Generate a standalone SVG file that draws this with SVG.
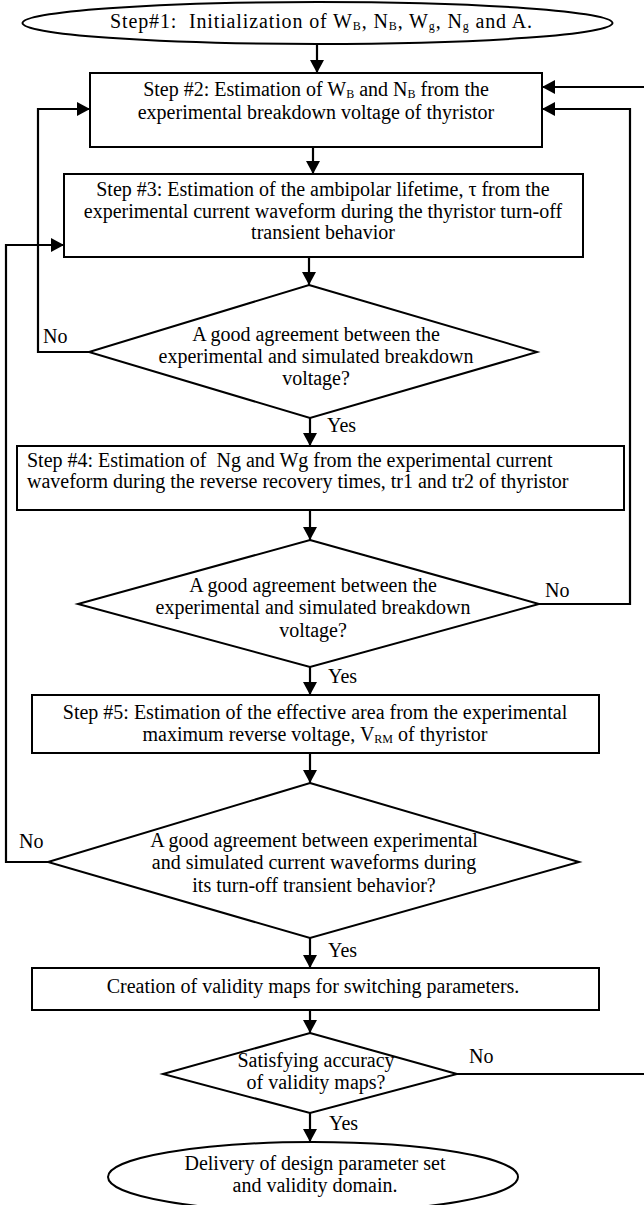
<svg xmlns="http://www.w3.org/2000/svg" width="644" height="1205" viewBox="0 0 644 1205">
<defs>
<marker id="ah" markerUnits="userSpaceOnUse" markerWidth="14" markerHeight="14" refX="13" refY="7" orient="auto"><path d="M0,0 L13,7 L0,14 Z" fill="#000"/></marker>
</defs>
<style>
.s{fill:#fff;stroke:#000;stroke-width:2}
.c{fill:none;stroke:#000;stroke-width:2.2;marker-end:url(#ah)}
text{font-family:"Liberation Serif","Times New Roman",serif;font-size:20px;fill:#000;white-space:pre}
.m{text-anchor:middle}
.sub{font-size:12px}
</style>
<rect width="644" height="1205" fill="#fff"/>
<g id="connectors">
<path class="c" d="M317,43 V73"/>
<path class="c" d="M313,147 V174"/>
<path class="c" d="M309,257 V285"/>
<path class="c" d="M310,418 V446"/>
<path class="c" d="M310,510 V540"/>
<path class="c" d="M310,667 V695"/>
<path class="c" d="M310,753 V783"/>
<path class="c" d="M310,938 V968"/>
<path class="c" d="M310,1010 V1033"/>
<path class="c" d="M310,1113 V1142"/>
<path class="c" d="M89,352 H38 V109 H90"/>
<path class="c" d="M539,604 H630 V109 H542"/>
<path class="c" d="M48,862 H6 V245 H64"/>
<path class="c" d="M457,1074 H647 V87 H542"/>
<text x="43" y="343">No</text>
<text x="327" y="432">Yes</text>
<text x="545" y="597">No</text>
<text x="328" y="683">Yes</text>
<text x="19" y="848">No</text>
<text x="328" y="957">Yes</text>
<text x="469" y="1063">No</text>
<text x="329" y="1130">Yes</text>
</g>
<g id="step1">
<ellipse class="s" cx="317.5" cy="23" rx="295" ry="21"/>
<text class="m" x="321" y="28" xml:space="preserve" textLength="422" lengthAdjust="spacing">Step#1:  Initialization of W<tspan class="sub" dy="2">B</tspan><tspan dy="-2">, N</tspan><tspan class="sub" dy="2">B</tspan><tspan dy="-2">, W</tspan><tspan class="sub" dy="2">g</tspan><tspan dy="-2">, N</tspan><tspan class="sub" dy="2">g</tspan><tspan dy="-2"> and A.</tspan></text>
</g>
<g id="step2">
<rect class="s" x="90" y="73" width="452" height="74"/>
<text class="m" x="316" y="96">Step #2: Estimation of W<tspan class="sub" dy="2">B</tspan><tspan dy="-2"> and N</tspan><tspan class="sub" dy="2">B</tspan><tspan dy="-2"> from the</tspan></text>
<text class="m" x="316" y="119">experimental breakdown voltage of thyristor</text>
</g>
<g id="step3">
<rect class="s" x="64" y="174" width="519" height="83"/>
<text class="m" x="323" y="196">Step #3: Estimation of the ambipolar lifetime, τ from the</text>
<text class="m" x="323" y="217.5">experimental current waveform during the thyristor turn-off</text>
<text class="m" x="323" y="239">transient behavior</text>
</g>
<g id="decision1">
<polygon class="s" points="309,285 537,352 310,418 89,352"/>
<text class="m" x="316" y="341">A good agreement between the</text>
<text class="m" x="316" y="363">experimental and simulated breakdown</text>
<text class="m" x="316" y="385">voltage?</text>
</g>
<g id="step4">
<rect class="s" x="17" y="446" width="607" height="64"/>
<text x="27" y="467" xml:space="preserve">Step #4: Estimation of  Ng and Wg from the experimental current</text>
<text x="27" y="488">waveform during the reverse recovery times, tr1 and tr2 of thyristor</text>
</g>
<g id="decision2">
<polygon class="s" points="310,540 539,604 310,667 78,604"/>
<text class="m" x="313" y="592">A good agreement between the</text>
<text class="m" x="313" y="614">experimental and simulated breakdown</text>
<text class="m" x="313" y="637">voltage?</text>
</g>
<g id="step5">
<rect class="s" x="32" y="695" width="567" height="58"/>
<text class="m" x="315" y="719">Step #5: Estimation of the effective area from the experimental</text>
<text class="m" x="315" y="741">maximum reverse voltage, V<tspan class="sub" dy="2">RM</tspan><tspan dy="-2"> of thyristor</tspan></text>
</g>
<g id="decision3">
<polygon class="s" points="310,783 579,862 310,938 48,862"/>
<text class="m" x="314" y="847">A good agreement between experimental</text>
<text class="m" x="314" y="869">and simulated current waveforms during</text>
<text class="m" x="314" y="892">its turn-off transient behavior?</text>
</g>
<g id="validity">
<rect class="s" x="32" y="968" width="567" height="42"/>
<text class="m" x="313" y="993">Creation of validity maps for switching parameters.</text>
</g>
<g id="decision4">
<polygon class="s" points="310,1033 457,1074 310,1113 163,1074"/>
<text class="m" x="316" y="1067">Satisfying accuracy</text>
<text class="m" x="316" y="1089">of validity maps?</text>
</g>
<g id="end">
<ellipse class="s" cx="313" cy="1177" rx="205" ry="35"/>
<text class="m" x="315" y="1170">Delivery of design parameter set</text>
<text class="m" x="315" y="1192">and validity domain.</text>
</g>
</svg>
